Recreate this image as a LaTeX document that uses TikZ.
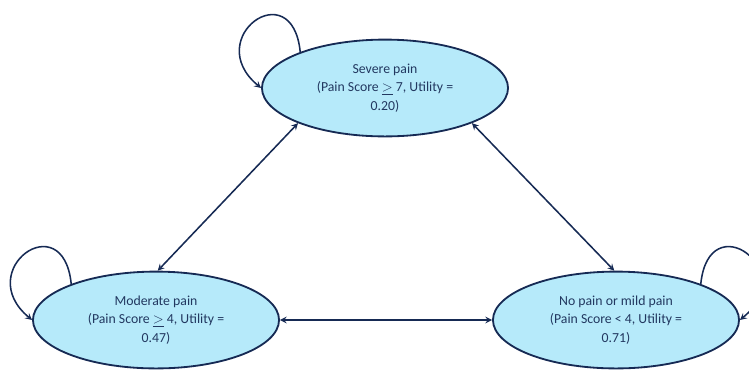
\documentclass[tikz,border=0pt]{standalone}
\usepackage{fontspec}
\setmainfont{Carlito}
\usepackage{tikz}
\usetikzlibrary{shapes,positioning,arrows,calc}
\definecolor{statefill}{RGB}{182,234,250}
\definecolor{stateline}{RGB}{22,42,84}
\definecolor{statetext}{RGB}{34,56,96}
\tikzset{
  state/.style={ellipse, draw=stateline, line width=1.3pt, fill=statefill,
    minimum width=6.15cm, minimum height=2.42cm, align=center,
    text=statetext, font=\fontsize{9.8}{13.2}\selectfont, inner sep=0pt},
  trans/.style={<->, >=stealth, draw=stateline, line width=1.1pt},
  selfloop/.style={->, >=stealth, draw=stateline, line width=1.1pt}
}
\begin{document}
\begin{tikzpicture}[x=0.025cm, y=-0.025cm]
        \useasboundingbox (0,0) rectangle (749,371);
        \node[state] (sev) at (385,88) {Severe pain\\(Pain Score $\underline{>}$ 7, Utility =\\0.20)};
        \node[state] (mod) at (156,320) {Moderate pain\\(Pain Score $\underline{>}$ 4, Utility =\\0.47)};
        \node[state] (mild) at (616,320) {No pain or mild pain\\(Pain Score < 4, Utility =\\0.71)};
        \draw[trans] (sev.-158) -- (mod.88);
        \draw[trans] (sev.-22) -- (mild.92);
        \draw[trans] (mod.east) -- (mild.west);
        \draw[selfloop] (sev.157) .. controls +(-8,-80) and +(-60,-50) .. (sev.west);
        \draw[selfloop] (mod.157) .. controls +(-8,-80) and +(-60,-50) .. (mod.west);
        \draw[selfloop] (mild.23) .. controls +(8,-80) and +(60,-50) .. (mild.east);
    \end{tikzpicture}
\end{document}
